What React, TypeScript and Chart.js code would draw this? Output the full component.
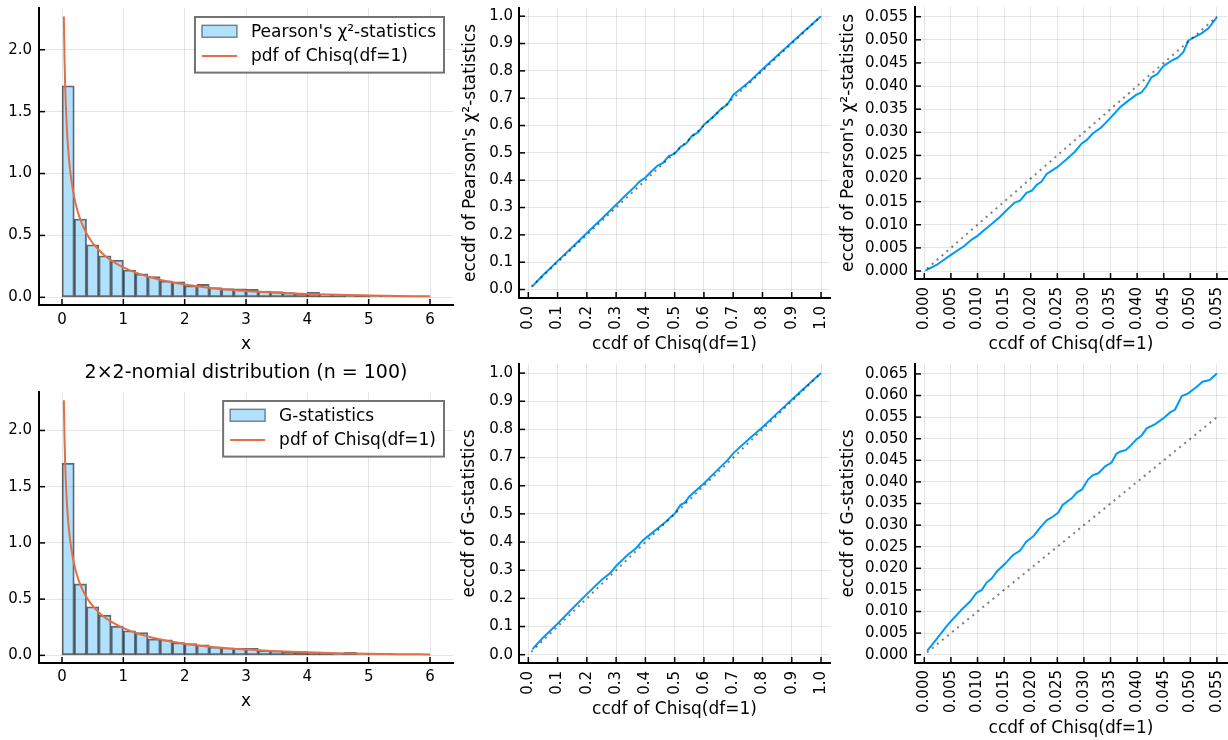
import React, { useEffect, useRef } from "react";
import { Chart, registerables } from "chart.js";

Chart.register(...registerables);

const FONT = "'DejaVu Sans', sans-serif";
const BLUE = "#009AFA";
const ORANGE = "#E26F46";
const HIST_FILL = "rgba(0,154,250,0.3)";
const HIST_EDGE = "rgba(0,0,0,0.6)";
const GRID = "rgba(0,0,0,0.1)";
const DOT = "rgba(0,0,0,0.5)";

// ---------- data ----------
const BIN_CENTERS = [
  0.1, 0.3, 0.5, 0.7, 0.9, 1.1, 1.3, 1.5, 1.7, 1.9, 2.1, 2.3, 2.5, 2.7, 2.9,
  3.1, 3.3, 3.5, 3.7, 3.9, 4.1, 4.3, 4.5, 4.7, 4.9, 5.1, 5.3, 5.5, 5.7, 5.9,
];
const PEARSON_DENSITY = [
  1.709, 0.633, 0.425, 0.336, 0.301, 0.221, 0.19, 0.168, 0.133, 0.126, 0.095,
  0.105, 0.078, 0.07, 0.069, 0.064, 0.051, 0.046, 0.038, 0.032, 0.04, 0.024,
  0.022, 0.019, 0.021, 0.016, 0.016, 0.013, 0.011, 0.011,
];
const G_DENSITY = [
  1.71, 0.636, 0.432, 0.358, 0.26, 0.219, 0.202, 0.146, 0.139, 0.113, 0.104,
  0.094, 0.074, 0.068, 0.062, 0.062, 0.044, 0.041, 0.036, 0.033, 0.03, 0.024,
  0.021, 0.027, 0.018, 0.015, 0.015, 0.012, 0.012, 0.009,
];
const PDF_X = [
  0.03, 0.04, 0.05, 0.06, 0.08, 0.1, 0.12, 0.15, 0.2, 0.25, 0.3, 0.4, 0.5,
  0.6, 0.7, 0.8, 1.0, 1.25, 1.5, 1.75, 2.0, 2.5, 3.0, 3.5, 4.0, 4.5, 5.0, 5.5,
  6.0,
];
const PDF_Y = [
  2.269, 1.955, 1.74, 1.58, 1.355, 1.2, 1.085, 0.956, 0.807, 0.704, 0.627,
  0.516, 0.439, 0.382, 0.336, 0.299, 0.242, 0.191, 0.154, 0.126, 0.104, 0.072,
  0.051, 0.037, 0.027, 0.0198, 0.0146, 0.0109, 0.0081,
];

const PEARSON_QQ_X = [
  0.014, 0.05, 0.1, 0.15, 0.2, 0.25, 0.3, 0.33, 0.36, 0.38, 0.4, 0.42, 0.44,
  0.46, 0.48, 0.5, 0.52, 0.54, 0.56, 0.58, 0.6, 0.63, 0.66, 0.68, 0.7, 0.73,
  0.76, 0.8, 0.85, 0.9, 0.95, 1.0,
];
const PEARSON_QQ_Y = [
  0.012, 0.052, 0.104, 0.155, 0.207, 0.258, 0.31, 0.342, 0.372, 0.395, 0.41,
  0.432, 0.452, 0.463, 0.488, 0.497, 0.522, 0.535, 0.563, 0.575, 0.603, 0.63,
  0.662, 0.677, 0.712, 0.738, 0.765, 0.806, 0.855, 0.904, 0.952, 1.0,
];
const G_QQ_X = [
  0.014, 0.05, 0.1, 0.15, 0.2, 0.25, 0.28, 0.3, 0.34, 0.37, 0.39, 0.42, 0.45,
  0.47, 0.49, 0.5, 0.52, 0.535, 0.55, 0.6, 0.65, 0.68, 0.7, 0.75, 0.8, 0.85,
  0.9, 0.95, 1.0,
];
const G_QQ_Y = [
  0.02, 0.06, 0.11, 0.163, 0.215, 0.265, 0.29, 0.315, 0.355, 0.38, 0.405, 0.43,
  0.455, 0.472, 0.492, 0.5, 0.532, 0.54, 0.562, 0.608, 0.66, 0.69, 0.715,
  0.762, 0.808, 0.857, 0.905, 0.953, 1.0,
];
const QQ_DIAG_X = [0.01, 1.0];
const QQ_DIAG_Y = [0.01, 1.0];

const PEARSON_TAIL_X = [
  0.0002, 0.0023, 0.005, 0.0075, 0.0089, 0.01, 0.0111, 0.0127, 0.0142, 0.0155,
  0.017, 0.018, 0.0192, 0.0202, 0.0211, 0.022, 0.023, 0.0249, 0.0267, 0.0283,
  0.0296, 0.0305, 0.0317, 0.0333, 0.0352, 0.0368, 0.0383, 0.0398, 0.0408,
  0.0417, 0.0427, 0.0438, 0.0449, 0.0465, 0.0477, 0.0487, 0.0496, 0.0506,
  0.0521, 0.0534, 0.055,
];
const PEARSON_TAIL_Y = [
  0.0001, 0.0013, 0.0035, 0.0054, 0.0068, 0.0076, 0.0087, 0.0102, 0.0117,
  0.0132, 0.0148, 0.0152, 0.0169, 0.0174, 0.0186, 0.0193, 0.021, 0.0224,
  0.0241, 0.0258, 0.0276, 0.0283, 0.0298, 0.0311, 0.0334, 0.0354, 0.0368,
  0.0381, 0.0386, 0.0399, 0.0419, 0.0426, 0.0443, 0.0455, 0.0462, 0.0474,
  0.0498, 0.0505, 0.0514, 0.0525, 0.0549,
];
const G_TAIL_X = [
  0.00056, 0.0023, 0.0042, 0.0054, 0.007, 0.0086, 0.0098, 0.0108, 0.0117,
  0.0127, 0.0136, 0.0152, 0.0167, 0.018, 0.0192, 0.0205, 0.0217, 0.023,
  0.0242, 0.0252, 0.026, 0.0277, 0.0287, 0.0296, 0.0308, 0.0317, 0.0327,
  0.034, 0.0352, 0.0361, 0.0368, 0.0379, 0.0387, 0.0399, 0.0408, 0.0418,
  0.0434, 0.0449, 0.0462, 0.0471, 0.0484, 0.0496, 0.0511, 0.0523, 0.0536,
  0.055,
];
const G_TAIL_Y = [
  0.00093, 0.0036, 0.0066, 0.0083, 0.0104, 0.0123, 0.0143, 0.015, 0.0167,
  0.0177, 0.0192, 0.0211, 0.0231, 0.0241, 0.0262, 0.0274, 0.0293, 0.0311,
  0.032, 0.0329, 0.0347, 0.0362, 0.0376, 0.0382, 0.0406, 0.0416, 0.042,
  0.0436, 0.0445, 0.0465, 0.047, 0.0474, 0.0483, 0.0499, 0.0507, 0.0524,
  0.0534, 0.0547, 0.0561, 0.0567, 0.0599, 0.0605, 0.0619, 0.0632, 0.0636,
  0.0651,
];
const TAIL_DIAG_X = [0.0005, 0.055];
const TAIL_DIAG_Y = [0.0005, 0.055];

// ---------- ticks ----------
const HIST_X_TICKS = [0, 1, 2, 3, 4, 5, 6];
const HIST_X_LABELS = ["0", "1", "2", "3", "4", "5", "6"];
const HIST_Y_TICKS = [0, 0.5, 1, 1.5, 2];
const HIST_Y_LABELS = ["0.0", "0.5", "1.0", "1.5", "2.0"];
const QQ_TICKS = [0, 0.1, 0.2, 0.3, 0.4, 0.5, 0.6, 0.7, 0.8, 0.9, 1.0];
const QQ_LABELS = ["0.0", "0.1", "0.2", "0.3", "0.4", "0.5", "0.6", "0.7", "0.8", "0.9", "1.0"];
const TAIL_TICKS = [0, 0.005, 0.01, 0.015, 0.02, 0.025, 0.03, 0.035, 0.04, 0.045, 0.05, 0.055];
const TAIL_LABELS = ["0.000", "0.005", "0.010", "0.015", "0.020", "0.025", "0.030", "0.035", "0.040", "0.045", "0.050", "0.055"];
const G_TAIL_Y_TICKS = [0, 0.005, 0.01, 0.015, 0.02, 0.025, 0.03, 0.035, 0.04, 0.045, 0.05, 0.055, 0.06, 0.065];
const G_TAIL_Y_LABELS = ["0.000", "0.005", "0.010", "0.015", "0.020", "0.025", "0.030", "0.035", "0.040", "0.045", "0.050", "0.055", "0.060", "0.065"];

// ---------- text ----------
const LBL_PEARSON = "Pearson's χ²-statistics";
const LBL_G = "G-statistics";
const LBL_PDF = "pdf of Chisq(df=1)";
const X_HIST = "x";
const X_CCDF = "ccdf of Chisq(df=1)";
const Y_PEARSON = "eccdf of Pearson's χ²-statistics";
const Y_G = "eccdf of G-statistics";
const TITLE_G = "2×2-nomial distribution (n = 100)";

type Box = { left: number; top: number; width: number; height: number };
type Area = { l: number; t: number; r: number; b: number };

const pts = (xs: number[], ys: number[]) => xs.map((x, i) => ({ x, y: ys[i] }));

const insideTicks = {
  id: "insideTicks",
  afterDatasetsDraw(chart: any) {
    const { ctx, chartArea, scales } = chart;
    ctx.save();
    ctx.strokeStyle = "#000";
    ctx.lineWidth = 1.5;
    const xs = scales.x;
    const ys = scales.y;
    xs.ticks.forEach((t: any) => {
      const px = xs.getPixelForValue(t.value);
      ctx.beginPath();
      ctx.moveTo(px, chartArea.bottom);
      ctx.lineTo(px, chartArea.bottom - 6);
      ctx.stroke();
    });
    ys.ticks.forEach((t: any) => {
      const py = ys.getPixelForValue(t.value);
      ctx.beginPath();
      ctx.moveTo(chartArea.left, py);
      ctx.lineTo(chartArea.left + 6, py);
      ctx.stroke();
    });
    ctx.restore();
  },
};

const boxLegend = {
  id: "boxLegend",
  afterDraw(chart: any) {
    const items = chart.data.datasets.filter((d: any) => d.legendKind);
    if (!items.length) return;
    const { ctx, chartArea } = chart;
    ctx.save();
    ctx.font = `17px ${FONT}`;
    const tw = Math.max(...items.map((d: any) => ctx.measureText(d.label).width));
    const w = 7 + 35 + 14 + tw + 8;
    const right = chartArea.right - 9;
    const left = right - w;
    const top = chartArea.top + 9;
    const h = 55.6;
    ctx.fillStyle = "#fff";
    ctx.fillRect(left, top, w, h);
    ctx.strokeStyle = "rgba(0,0,0,0.55)";
    ctx.lineWidth = 2;
    ctx.strokeRect(left, top, w, h);
    const rows = [top + 14.3, top + 39];
    items.forEach((d: any, i: number) => {
      const cy = rows[i];
      if (d.legendKind === "box") {
        ctx.fillStyle = HIST_FILL;
        ctx.fillRect(left + 7, cy - 6, 35, 12);
        ctx.strokeStyle = "rgba(0,0,0,0.45)";
        ctx.lineWidth = 1.5;
        ctx.strokeRect(left + 7, cy - 6, 35, 12);
      } else {
        ctx.strokeStyle = d.borderColor;
        ctx.lineWidth = 2;
        ctx.beginPath();
        ctx.moveTo(left + 7, cy);
        ctx.lineTo(left + 42, cy);
        ctx.stroke();
      }
      ctx.fillStyle = "#000";
      ctx.textBaseline = "middle";
      ctx.textAlign = "left";
      ctx.fillText(d.label, left + 56, cy + 1);
    });
    ctx.restore();
  },
};

const panelTitle = {
  id: "panelTitle",
  afterDraw(chart: any, _args: any, opts: any) {
    if (!opts || !opts.text) return;
    const { ctx, chartArea } = chart;
    ctx.save();
    ctx.font = `19px ${FONT}`;
    ctx.fillStyle = "#000";
    ctx.textAlign = "center";
    ctx.textBaseline = "middle";
    ctx.fillText(opts.text, (chartArea.left + chartArea.right) / 2, chartArea.top - 19);
    ctx.restore();
  },
};

function makeOptions(box: Box, area: Area, s: any) {
  return {
    responsive: false,
    animation: false,
    devicePixelRatio: 1,
    layout: {
      padding: { left: 0, top: area.t - box.top, right: box.left + box.width - area.r, bottom: 0 },
    },
    plugins: {
      legend: { display: false },
      tooltip: { enabled: false },
      title: { display: false },
      panelTitle: { text: s.title || "" },
    },
    scales: {
      x: {
        type: "linear",
        position: "bottom",
        min: s.xMin,
        max: s.xMax,
        offset: false,
        afterBuildTicks: (sc: any) => {
          sc.ticks = s.xTicks.map((v: number) => ({ value: v }));
        },
        afterFit: (sc: any) => {
          sc.height = box.top + box.height - area.b;
          sc.paddingLeft = 0;
          sc.paddingRight = 0;
          sc.paddingTop = 0;
          sc.paddingBottom = 0;
        },
        ticks: {
          autoSkip: false,
          includeBounds: false,
          minRotation: s.xRot,
          maxRotation: s.xRot,
          padding: s.xTickPad,
          color: "#000",
          font: { family: FONT, size: 15 },
          callback: (_v: any, i: number) => s.xLabels[i],
        },
        grid: { color: GRID, lineWidth: 1, drawTicks: false, offset: false },
        border: { display: true, color: "#000", width: 2 },
        title: {
          display: true,
          text: s.xTitle,
          color: "#000",
          font: { family: FONT, size: 17 },
          padding: { top: 0, bottom: box.top + box.height - s.xTitleY - 10.2 },
        },
      },
      y: {
        type: "linear",
        position: "left",
        min: s.yMin,
        max: s.yMax,
        afterBuildTicks: (sc: any) => {
          sc.ticks = s.yTicks.map((v: number) => ({ value: v }));
        },
        afterFit: (sc: any) => {
          sc.width = area.l - box.left;
          sc.paddingLeft = 0;
          sc.paddingRight = 0;
          sc.paddingTop = 0;
          sc.paddingBottom = 0;
        },
        ticks: {
          autoSkip: false,
          includeBounds: false,
          padding: s.yTickPad,
          color: "#000",
          font: { family: FONT, size: 15 },
          callback: (_v: any, i: number) => s.yLabels[i],
        },
        grid: { color: GRID, lineWidth: 1, drawTicks: false },
        border: { display: true, color: "#000", width: 2 },
        title: {
          display: !!s.yTitle,
          text: s.yTitle || "",
          color: "#000",
          font: { family: FONT, size: 17 },
          padding: { top: s.yTitle ? s.yTitleX - box.left - 10.2 : 0, bottom: 0 },
        },
      },
    },
  };
}

function histDatasets(label: string, dens: number[]) {
  return [
    {
      type: "bar",
      label,
      legendKind: "box",
      data: pts(BIN_CENTERS, dens),
      backgroundColor: HIST_FILL,
      borderColor: HIST_EDGE,
      borderWidth: 1.25,
      borderSkipped: false,
      barPercentage: 1,
      categoryPercentage: 1,
      order: 2,
    },
    {
      type: "line",
      label: LBL_PDF,
      legendKind: "line",
      data: pts(PDF_X, PDF_Y),
      borderColor: ORANGE,
      borderWidth: 2,
      pointRadius: 0,
      cubicInterpolationMode: "monotone",
      order: 1,
    },
  ];
}

function qqDatasets(xs: number[], ys: number[], dx: number[], dy: number[]) {
  return [
    {
      type: "line",
      label: "y = x",
      data: pts(dx, dy),
      borderColor: DOT,
      borderWidth: 2,
      borderDash: [2, 4.5],
      pointRadius: 0,
      order: 1,
    },
    {
      type: "line",
      label: "eccdf",
      data: pts(xs, ys),
      borderColor: BLUE,
      borderWidth: 2,
      pointRadius: 0,
      tension: 0,
      order: 2,
    },
  ];
}

type Spec = { box: Box; area: Area; build: () => any };

const SPECS: Spec[] = [
  {
    box: { left: 0, top: 0, width: 460, height: 360 },
    area: { l: 39, t: 8, r: 453, b: 305 },
    build() {
      return {
        type: "bar",
        data: { datasets: histDatasets(LBL_PEARSON, PEARSON_DENSITY) },
        options: makeOptions(this.box, this.area, {
          xMin: -0.375, xMax: 6.375, yMin: -0.062, yMax: 2.337,
          xTicks: HIST_X_TICKS, xLabels: HIST_X_LABELS, yTicks: HIST_Y_TICKS, yLabels: HIST_Y_LABELS,
          xRot: 0, xTickPad: 6.5, yTickPad: 7, xTitle: X_HIST, xTitleY: 345,
        }),
        plugins: [insideTicks, boxLegend],
      };
    },
  },
  {
    box: { left: 455, top: 0, width: 385, height: 360 },
    area: { l: 519, t: 8, r: 830, b: 298 },
    build() {
      return {
        type: "line",
        data: { datasets: qqDatasets(PEARSON_QQ_X, PEARSON_QQ_Y, QQ_DIAG_X, QQ_DIAG_Y) },
        options: makeOptions(this.box, this.area, {
          xMin: -0.0318, xMax: 1.0307, yMin: -0.031, yMax: 1.03,
          xTicks: QQ_TICKS, xLabels: QQ_LABELS, yTicks: QQ_TICKS, yLabels: QQ_LABELS,
          xRot: 90, xTickPad: 8, yTickPad: 6, xTitle: X_CCDF, xTitleY: 345,
          yTitle: Y_PEARSON, yTitleX: 471,
        }),
        plugins: [insideTicks],
      };
    },
  },
  {
    box: { left: 830, top: 0, width: 398, height: 360 },
    area: { l: 915, t: 7, r: 1227, b: 279 },
    build() {
      return {
        type: "line",
        data: { datasets: qqDatasets(PEARSON_TAIL_X, PEARSON_TAIL_Y, TAIL_DIAG_X, TAIL_DIAG_Y) },
        options: makeOptions(this.box, this.area, {
          xMin: -0.00175, xMax: 0.05689, yMin: -0.00173, yMax: 0.0571,
          xTicks: TAIL_TICKS, xLabels: TAIL_LABELS, yTicks: TAIL_TICKS, yLabels: TAIL_LABELS,
          xRot: 90, xTickPad: 8, yTickPad: 7, xTitle: X_CCDF, xTitleY: 345,
          yTitle: Y_PEARSON, yTitleX: 848.3,
        }),
        plugins: [insideTicks],
      };
    },
  },
  {
    box: { left: 0, top: 355, width: 460, height: 385 },
    area: { l: 39, t: 392, r: 453, b: 663 },
    build() {
      return {
        type: "bar",
        data: { datasets: histDatasets(LBL_G, G_DENSITY) },
        options: makeOptions(this.box, this.area, {
          xMin: -0.375, xMax: 6.375, yMin: -0.068, yMax: 2.342,
          xTicks: HIST_X_TICKS, xLabels: HIST_X_LABELS, yTicks: HIST_Y_TICKS, yLabels: HIST_Y_LABELS,
          xRot: 0, xTickPad: 5, yTickPad: 7, xTitle: X_HIST, xTitleY: 701.7,
          title: TITLE_G,
        }),
        plugins: [insideTicks, boxLegend, panelTitle],
      };
    },
  },
  {
    box: { left: 455, top: 355, width: 385, height: 385 },
    area: { l: 519, t: 364, r: 830, b: 663 },
    build() {
      return {
        type: "line",
        data: { datasets: qqDatasets(G_QQ_X, G_QQ_Y, QQ_DIAG_X, QQ_DIAG_Y) },
        options: makeOptions(this.box, this.area, {
          xMin: -0.0318, xMax: 1.0307, yMin: -0.0295, yMax: 1.0323,
          xTicks: QQ_TICKS, xLabels: QQ_LABELS, yTicks: QQ_TICKS, yLabels: QQ_LABELS,
          xRot: 90, xTickPad: 8, yTickPad: 6, xTitle: X_CCDF, xTitleY: 710,
          yTitle: Y_G, yTitleX: 470,
        }),
        plugins: [insideTicks],
      };
    },
  },
  {
    box: { left: 830, top: 355, width: 398, height: 385 },
    area: { l: 915, t: 364, r: 1227, b: 663 },
    build() {
      return {
        type: "line",
        data: { datasets: qqDatasets(G_TAIL_X, G_TAIL_Y, TAIL_DIAG_X, TAIL_DIAG_Y) },
        options: makeOptions(this.box, this.area, {
          xMin: -0.00175, xMax: 0.05689, yMin: -0.00192, yMax: 0.0673,
          xTicks: TAIL_TICKS, xLabels: TAIL_LABELS, yTicks: G_TAIL_Y_TICKS, yLabels: G_TAIL_Y_LABELS,
          xRot: 90, xTickPad: 7, yTickPad: 7, xTitle: X_CCDF, xTitleY: 728.3,
          yTitle: Y_G, yTitleX: 848.3,
        }),
        plugins: [insideTicks],
      };
    },
  },
];

function Panel({ spec }: { spec: Spec }) {
  const ref = useRef<HTMLCanvasElement>(null);
  useEffect(() => {
    const chart = new Chart(ref.current as HTMLCanvasElement, spec.build() as any);
    return () => chart.destroy();
  }, [spec]);
  const { box } = spec;
  return (
    <canvas
      ref={ref}
      width={box.width}
      height={box.height}
      style={{ position: "absolute", left: box.left, top: box.top, width: box.width, height: box.height }}
    />
  );
}

export default function App() {
  return (
    <div style={{ position: "absolute", left: 0, top: 0, width: 1228, height: 740, background: "#fff", overflow: "hidden" }}>
      {SPECS.map((s, i) => (
        <Panel key={i} spec={s} />
      ))}
    </div>
  );
}
